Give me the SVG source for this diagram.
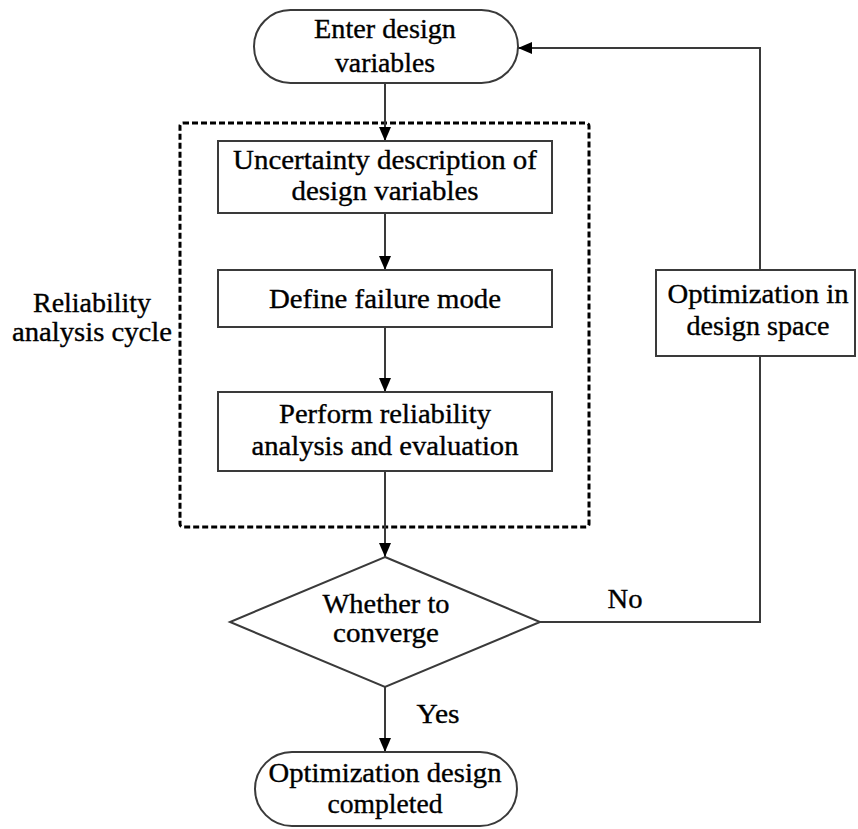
<svg xmlns="http://www.w3.org/2000/svg" width="858" height="829" viewBox="0 0 858 829">
  <style>
    .shape { fill: #ffffff; stroke: #3a3a3a; stroke-width: 2; }
    .edge { fill: none; stroke: #3a3a3a; stroke-width: 2; }
    .group-frame { fill: none; stroke: #000000; stroke-width: 3; stroke-dasharray: 6 3; }
    .label { font-family: "Liberation Serif", "Times New Roman", serif; font-size: 27px; fill: #000000; stroke: #000000; stroke-width: 0.35; text-anchor: middle; }
  </style>
  <defs>
    <marker id="arrow" markerWidth="14" markerHeight="14" viewBox="0 0 14 14" refX="14" refY="7" orient="auto" markerUnits="userSpaceOnUse">
      <path d="M0,1 L14,7 L0,13 Z" fill="#000000"/>
    </marker>
  </defs>

  <!-- reliability analysis frame -->
  <g id="reliability-cycle">
    <rect class="group-frame" x="180" y="123" width="409" height="404" rx="3"/>
    <text class="label" x="92" y="312" textLength="118" lengthAdjust="spacingAndGlyphs">Reliability</text>
    <text class="label" x="92" y="341" textLength="160" lengthAdjust="spacingAndGlyphs">analysis cycle</text>
  </g>

  <!-- connectors -->
  <g id="connectors">
    <line class="edge" x1="385" y1="83" x2="385" y2="141" marker-end="url(#arrow)"/>
    <line class="edge" x1="385" y1="213" x2="385" y2="270" marker-end="url(#arrow)"/>
    <line class="edge" x1="385" y1="327" x2="385" y2="392" marker-end="url(#arrow)"/>
    <line class="edge" x1="385" y1="471" x2="385" y2="557" marker-end="url(#arrow)"/>
    <line class="edge" x1="385" y1="687" x2="385" y2="752" marker-end="url(#arrow)"/>
    <polyline class="edge" points="540,622 760,622 760,48 518,48" marker-end="url(#arrow)"/>
    <text class="label" x="438" y="723" textLength="43" lengthAdjust="spacingAndGlyphs">Yes</text>
    <text class="label" x="625" y="608" textLength="35" lengthAdjust="spacingAndGlyphs">No</text>
  </g>

  <g id="start">
    <rect class="shape" x="254" y="10" width="264" height="73" rx="36.5"/>
    <text class="label" x="385" y="38" textLength="142" lengthAdjust="spacingAndGlyphs">Enter design</text>
    <text class="label" x="385" y="72" textLength="100" lengthAdjust="spacingAndGlyphs">variables</text>
  </g>

  <g id="uncertainty">
    <rect class="shape" x="218" y="141" width="334" height="72"/>
    <text class="label" x="385" y="169" textLength="304" lengthAdjust="spacingAndGlyphs">Uncertainty description of</text>
    <text class="label" x="385" y="200" textLength="187" lengthAdjust="spacingAndGlyphs">design variables</text>
  </g>

  <g id="failure-mode">
    <rect class="shape" x="218" y="270" width="334" height="57"/>
    <text class="label" x="385" y="308" textLength="232" lengthAdjust="spacingAndGlyphs">Define failure mode</text>
  </g>

  <g id="reliability-analysis">
    <rect class="shape" x="218" y="392" width="334" height="79"/>
    <text class="label" x="385" y="423" textLength="212" lengthAdjust="spacingAndGlyphs">Perform reliability</text>
    <text class="label" x="385" y="455" textLength="267" lengthAdjust="spacingAndGlyphs">analysis and evaluation</text>
  </g>

  <g id="converge">
    <polygon class="shape" points="385,557 540,622 385,687 230,622"/>
    <text class="label" x="386" y="613" textLength="127" lengthAdjust="spacingAndGlyphs">Whether to</text>
    <text class="label" x="386" y="642" textLength="106" lengthAdjust="spacingAndGlyphs">converge</text>
  </g>

  <g id="optimization-space">
    <rect class="shape" x="656" y="270" width="199" height="86"/>
    <text class="label" x="758" y="303" textLength="181" lengthAdjust="spacingAndGlyphs">Optimization in</text>
    <text class="label" x="758" y="335" textLength="143" lengthAdjust="spacingAndGlyphs">design space</text>
  </g>

  <g id="end">
    <rect class="shape" x="255" y="752" width="262" height="74" rx="37"/>
    <text class="label" x="385" y="782" textLength="233" lengthAdjust="spacingAndGlyphs">Optimization design</text>
    <text class="label" x="385" y="813" textLength="115" lengthAdjust="spacingAndGlyphs">completed</text>
  </g>
</svg>
